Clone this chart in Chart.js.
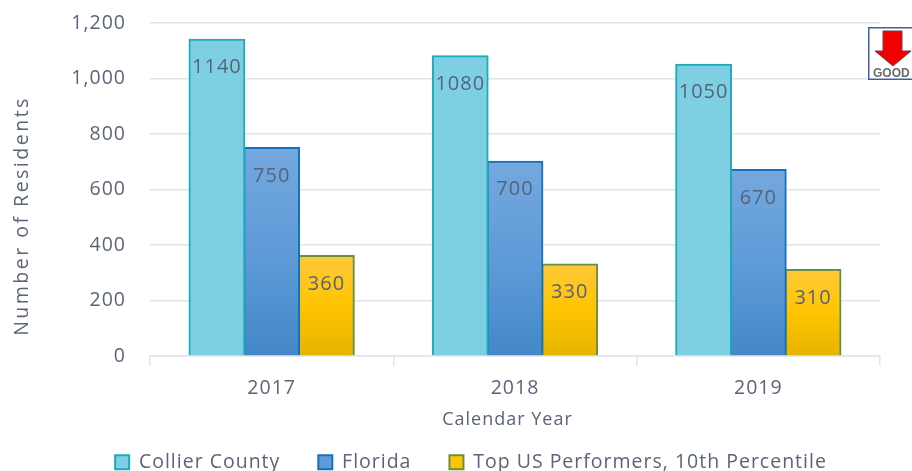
<!DOCTYPE html>
<html><head><meta charset="utf-8">
<style>
html,body{margin:0;padding:0;background:#fff;overflow:hidden}
#wrap{position:relative;width:912px;height:471px}
#badge{position:absolute;left:868px;top:27px;width:44px;height:53px}
</style>
<script src="https://cdn.jsdelivr.net/npm/chart.js@4"></script>
</head><body>
<div id="wrap"><canvas id="c" width="912" height="471"></canvas>
<svg id="badge" viewBox="0 0 44 53" xmlns="http://www.w3.org/2000/svg">
<rect x="0.75" y="0.75" width="48" height="51.5" fill="#fff" stroke="#3f629c" stroke-width="1.5"/>
<path d="M15 4H34V24H43L25 39L7 24H15Z" fill="#f00000" stroke="#7d3a3a" stroke-width="1"/>
<text x="5" y="50" font-family="Liberation Sans" font-weight="700" font-size="12" fill="#6a6a6a">GOOD</text>
</svg></div>
<script>
const categories = ['2017','2018','2019'];
const collierValues = [1140,1080,1050];
const floridaValues = [750,700,670];
const topValues = [360,330,310];
const yTicks = [0,200,400,600,800,1000,1200];
const seriesNames = ['Collier County','Florida','Top US Performers, 10th Percentile'];
const xTitle = 'Calendar Year';
const yTitle = 'Number of Residents';
const FONT = '"Open Sans"';
const TEXT = '#5b6478';
const SPACING = '1px';

function grad(stops){
  return function(ctx){
    const chart = ctx.chart;
    if(!chart.chartArea || ctx.dataIndex===undefined) return stops[stops.length-1];
    const y = chart.scales.y;
    const top = y.getPixelForValue(ctx.raw), base = y.getPixelForValue(0);
    const g = chart.ctx.createLinearGradient(0,top,0,base);
    stops.forEach((s,i)=>g.addColorStop(i/(stops.length-1),s));
    return g;
  };
}
const labelPlugin = {
  id:'barLabels',
  beforeLayout(chart){ chart.ctx.letterSpacing = SPACING; },
  afterLayout(chart){
    const l = chart.legend;
    l.left += 31; l.right += 31; l.top += 11; l.bottom += 11;
  },
  beforeDraw(chart){ chart.ctx.letterSpacing = SPACING; },
  afterDatasetsDraw(chart){
    const c = chart.ctx;
    c.save();
    c.font = '20px '+FONT;
    c.fillStyle = '#55637a';
    c.textAlign = 'center';
    c.textBaseline = 'middle';
    chart.data.datasets.forEach((d,i)=>{
      chart.getDatasetMeta(i).data.forEach((el,j)=>{
        c.fillText(String(d.data[j]), el.x, el.y+28);
      });
    });
    c.restore();
  },
  afterDraw(chart){
    const c = chart.ctx;
    c.save();
    c.fillStyle = TEXT;
    c.textAlign = 'center';
    c.textBaseline = 'middle';
    c.letterSpacing = '1px';
    c.font = '18px '+FONT;
    c.fillText(xTitle, 507.5, 420);
    c.translate(22, 216);
    c.rotate(-Math.PI/2);
    c.letterSpacing = '2.5px';
    c.font = '19.5px '+FONT;
    c.fillText(yTitle, 0, 0);
    c.restore();
  }
};
new Chart(document.getElementById('c'),{
  type:'bar',
  data:{labels:categories,datasets:[
    {label:seriesNames[0],data:collierValues,backgroundColor:'#7fcfe3',borderColor:'#1cabbb',borderWidth:2,inflateAmount:1},
    {label:seriesNames[1],data:floridaValues,backgroundColor:grad(['#74a8de','#5f9bd8','#4388c7']),borderColor:'#1271c0',borderWidth:2,inflateAmount:1},
    {label:seriesNames[2],data:topValues,backgroundColor:grad(['#ffc93a','#ffc400','#e6b400']),borderColor:'#66903f',borderWidth:2,inflateAmount:1}
  ]},
  options:{
    responsive:false,animation:false,
    layout:{padding:{left:0,right:32,top:23,bottom:0}},
    datasets:{bar:{categoryPercentage:0.675,barPercentage:1}},
    plugins:{
      tooltip:{enabled:false},
      legend:{
        position:'bottom',
        labels:{
          boxWidth:14,boxHeight:14,padding:38,
          font:{family:FONT,size:19.5},color:TEXT,
          generateLabels(chart){
            const fills=['#7fcfe3','#5f9bd8','#ffc400'];
            return chart.data.datasets.map((d,i)=>({text:d.label,fillStyle:fills[i],strokeStyle:d.borderColor,lineWidth:2,datasetIndex:i,fontColor:TEXT}));
          }
        }
      }
    },
    scales:{
      x:{
        grid:{display:true,drawOnChartArea:false,drawTicks:true,tickLength:10,color:'#e1e4ea',lineWidth:1.5},
        border:{color:'#e1e4ea',width:1.5},
        ticks:{color:TEXT,font:{family:FONT,size:19.5},padding:11,maxRotation:0},
        afterFit(s){s.height=47.5;}
      },
      y:{
        min:0,max:1200,
        afterBuildTicks(s){s.ticks=yTicks.map(v=>({value:v}));},
        grid:{drawTicks:false,color:'#e1e4ea',lineWidth:1.5},
        border:{display:false},
        ticks:{color:TEXT,font:{family:FONT,size:19.5},padding:24,callback:v=>v.toLocaleString('en-US')},
        afterFit(s){s.width=150;s.paddingTop=0;s.paddingBottom=0;}
      }
    }
  },
  plugins:[labelPlugin]
});
</script>
</body></html>
